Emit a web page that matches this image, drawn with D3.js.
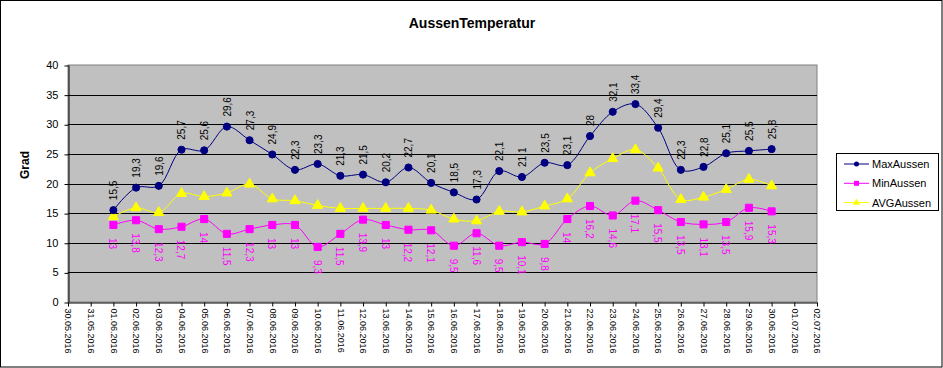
<!DOCTYPE html>
<html>
<head>
<meta charset="utf-8">
<script src="https://cdn.jsdelivr.net/npm/d3@7"></script>
<style>
  body { margin: 0; background: #fff; }
  svg { display: block; font-family: "Liberation Sans", Arial, sans-serif; }
</style>
</head>
<body>
<svg></svg>
<script>
// данные графика
const dates = ["01.06.2016","02.06.2016","03.06.2016","04.06.2016","05.06.2016","06.06.2016","07.06.2016","08.06.2016","09.06.2016","10.06.2016",
  "11.06.2016","12.06.2016","13.06.2016","14.06.2016","15.06.2016","16.06.2016","17.06.2016","18.06.2016","19.06.2016","20.06.2016",
  "21.06.2016","22.06.2016","23.06.2016","24.06.2016","25.06.2016","26.06.2016","27.06.2016","28.06.2016","29.06.2016","30.06.2016"];
const maxAussen = [15.5,19.3,19.6,25.7,25.6,29.6,27.3,24.9,22.3,23.3,21.3,21.5,20.2,22.7,20.1,18.5,17.3,22.1,21.1,23.5,23.1,28,32.1,33.4,29.4,22.3,22.8,25.1,25.5,25.8];
const minAussen = [13,13.8,12.3,12.7,14,11.5,12.3,13,13,9.3,11.5,13.9,13,12.2,12.1,9.5,11.6,9.5,10.1,9.8,14,16.2,14.6,17.1,15.5,13.5,13.1,13.5,15.9,15.3];
const avgAussen = [14.4,15.9,15.1,18.3,17.8,18.4,19.9,17.4,17.1,16.3,15.8,15.8,15.8,15.8,15.5,14.0,13.7,15.3,15.2,16.2,17.4,21.8,24.2,25.7,22.6,17.3,17.7,19.0,20.7,19.6];
const xDomain = ["30.05.2016", "02.07.2016"];
const yTicks = [0, 5, 10, 15, 20, 25, 30, 35, 40];
const seriesNames = ["MaxAussen", "MinAussen", "AVGAussen"];

const width = 943;
const height = 368;
const plot = { left: 68, right: 817, top: 65, bottom: 302 };

let svg = d3.select("svg")
  .attr("width", width)
  .attr("height", height);

const parse = d3.utcParse("%d.%m.%Y");
const fmt = d3.utcFormat("%d.%m.%Y");
const numFmt = (v) => String(v).replace(".", ",");

let x = d3.scaleUtc()
  .domain(xDomain.map(parse))
  .range([plot.left, plot.right]);

let y = d3.scaleLinear()
  .domain([0, 40])
  .range([plot.bottom, plot.top]);

// рамка диаграммы
svg.append("rect")
  .attr("x", 0.5).attr("y", 0.5)
  .attr("width", width - 1.5).attr("height", height - 1.5)
  .style("fill", "#fff")
  .style("stroke", "#000");

// серая область построения
svg.append("rect")
  .attr("x", plot.left).attr("y", plot.top)
  .attr("width", plot.right - plot.left).attr("height", plot.bottom - plot.top)
  .style("fill", "#c0c0c0")
  .style("stroke", "#808080");

// линии сетки
svg.append("g")
  .selectAll("line")
  .data(yTicks.filter(d => d > 0 && d < 40))
  .join("line")
  .attr("x1", plot.left).attr("x2", plot.right)
  .attr("y1", d => Math.round(y(d)) + 0.5).attr("y2", d => Math.round(y(d)) + 0.5)
  .style("stroke", "#000");

// ось Y
let yAxis = svg.append("g")
  .attr("transform", `translate(${plot.left + 0.5},0)`)
  .call(d3.axisLeft(y).tickValues(yTicks).tickSize(4).tickSizeOuter(0).tickPadding(6));
yAxis.select(".domain").style("stroke", "#000");
yAxis.selectAll(".tick line").attr("transform", "translate(0,0.5)");
yAxis.selectAll("text")
  .style("font-size", "11px")
  .style("font-family", "Liberation Sans, Arial, sans-serif")
  .style("fill", "#000");

// ось X
let xAxis = svg.append("g")
  .attr("transform", `translate(0,${plot.bottom + 0.5})`)
  .call(d3.axisBottom(x).ticks(d3.utcDay.every(1)).tickFormat(fmt).tickSize(4).tickSizeOuter(0));
xAxis.select(".domain").style("stroke", "#000");
xAxis.selectAll("text")
  .style("font-size", "9px")
  .style("font-family", "Liberation Sans, Arial, sans-serif")
  .style("fill", "#000")
  .attr("text-anchor", "start")
  .attr("dy", "0.35em")
  .attr("x", 0).attr("y", 0)
  .attr("transform", "translate(0,6) rotate(90)");

// заголовок и подпись оси
svg.append("text")
  .attr("x", 472).attr("y", 28)
  .attr("text-anchor", "middle")
  .style("font-size", "14px")
  .style("font-weight", "bold")
  .text("AussenTemperatur");

svg.append("text")
  .attr("transform", "translate(29,165) rotate(-90)")
  .attr("text-anchor", "middle")
  .style("font-size", "12px")
  .style("font-weight", "bold")
  .text("Grad");

// серии
const series = [
  { name: seriesNames[0], values: maxAussen, color: "#000080", symbol: d3.symbolCircle, size: 40 },
  { name: seriesNames[1], values: minAussen, color: "#ff00ff", symbol: d3.symbolSquare, size: 50 },
  { name: seriesNames[2], values: avgAussen, color: "#ffff00", symbol: d3.symbolTriangle, size: 45 }
];

const line = d3.line()
  .x((d, i) => x(parse(dates[i])))
  .y(d => y(d))
  .curve(d3.curveCatmullRom.alpha(0.5));

// рисуем в обратном порядке, чтобы Max был сверху
series.slice().reverse().forEach(s => {
  let g = svg.append("g");
  g.append("path")
    .attr("d", line(s.values))
    .style("fill", "none")
    .style("stroke", s.color)
    .style("stroke-width", 1);
  g.selectAll("path.pt")
    .data(s.values)
    .join("path")
    .attr("class", "pt")
    .attr("d", d3.symbol().type(s.symbol).size(s.size))
    .attr("transform", (d, i) => `translate(${x(parse(dates[i]))},${y(d)})`)
    .style("fill", s.color)
    .style("stroke", s.color);
});

// подписи значений
svg.append("g")
  .selectAll("text")
  .data(maxAussen)
  .join("text")
  .attr("transform", (d, i) => `translate(${x(parse(dates[i])) + 4},${y(d) - 10}) rotate(-90)`)
  .style("font-size", "10px")
  .style("fill", "#000")
  .text(d => numFmt(d));

svg.append("g")
  .selectAll("text")
  .data(minAussen)
  .join("text")
  .attr("transform", (d, i) => `translate(${x(parse(dates[i])) - 4},${y(d) + 13}) rotate(90)`)
  .style("font-size", "10px")
  .style("fill", "#ff00ff")
  .text(d => numFmt(d));

// легенда
let legend = svg.append("g");
legend.append("rect")
  .attr("x", 836.5).attr("y", 153.5)
  .attr("width", 102).attr("height", 57)
  .style("fill", "#fff")
  .style("stroke", "#000");

series.forEach((s, i) => {
  let ly = 164 + i * 19.3;
  legend.append("line")
    .attr("x1", 844).attr("x2", 869)
    .attr("y1", ly).attr("y2", ly)
    .style("stroke", s.color);
  legend.append("path")
    .attr("d", d3.symbol().type(s.symbol).size(s.size * 0.5))
    .attr("transform", `translate(856.5,${ly})`)
    .style("fill", s.color);
  legend.append("text")
    .attr("x", 872).attr("y", ly + 4)
    .style("font-size", "11px")
    .text(s.name);
});
</script>
</body>
</html>
